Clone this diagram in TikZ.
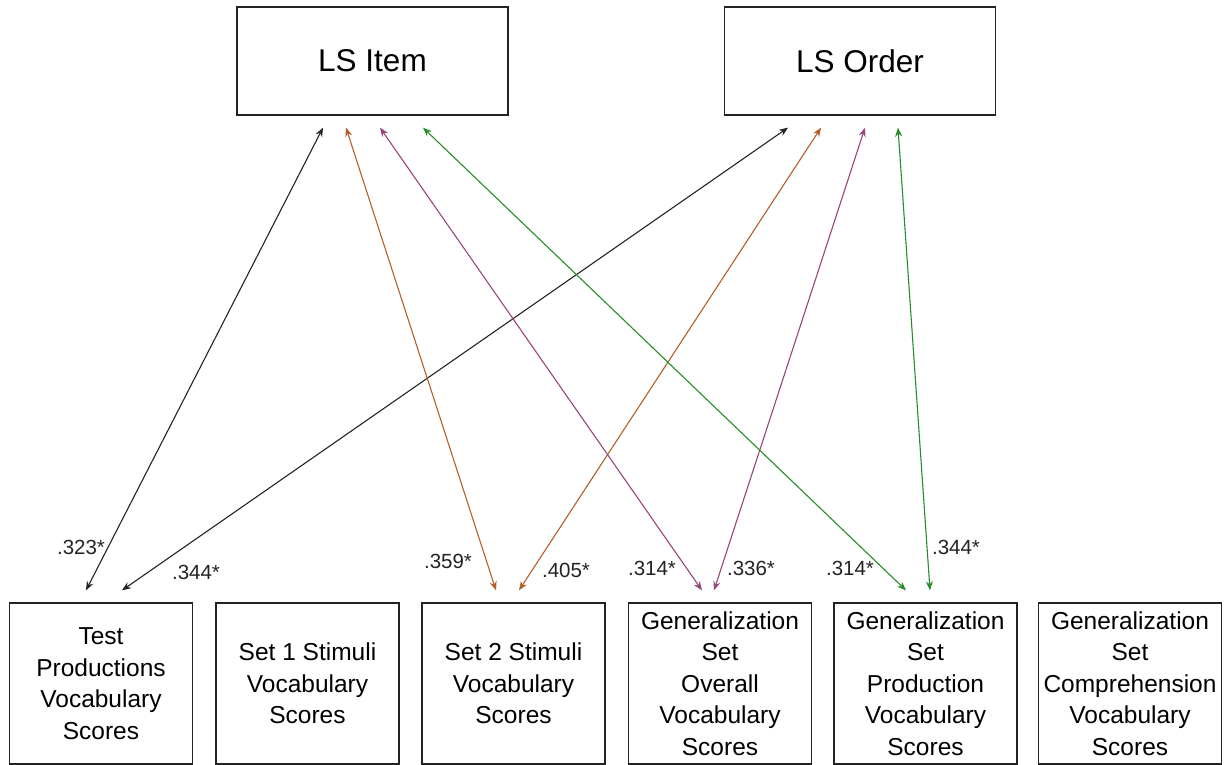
\documentclass[tikz,border=0pt]{standalone}
\usepackage{fontspec}
\setmainfont{Liberation Sans}
\usetikzlibrary{arrows.meta}
\definecolor{cblk}{RGB}{35,35,35}
\definecolor{corg}{RGB}{180,95,40}
\definecolor{cpur}{RGB}{150,70,120}
\definecolor{cgrn}{RGB}{40,140,40}
\tikzset{
  topbox/.style={draw=cblk, line width=1.3pt, inner sep=0pt, minimum width=271pt, minimum height=108pt, font=\fontsize{31.5}{36}\selectfont},
  botbox/.style={draw=cblk, line width=1.3pt, inner sep=0pt, minimum width=183pt, minimum height=161pt, align=center, font=\fontsize{24.5}{31.5}\selectfont},
  arr/.style={line width=1.1pt, {Stealth[length=9pt,width=7pt]}-{Stealth[length=9pt,width=7pt]}},
  lab/.style={font=\fontsize{20.5}{24}\selectfont, text=cblk, inner sep=0pt}
}
\begin{document}
\begin{tikzpicture}[x=1pt,y=-1pt]
\useasboundingbox (0,0) rectangle (1227,765);
\node[topbox] (item) at (372.5,61) {LS Item};
\node[topbox] (order) at (860,61) {LS Order};
\node[botbox] (b1) at (101,683.5) {Test\\Productions\\Vocabulary\\Scores};
\node[botbox] (b2) at (307.5,683.5) {Set 1 Stimuli\\Vocabulary\\Scores};
\node[botbox] (b3) at (513.5,683.5) {Set 2 Stimuli\\Vocabulary\\Scores};
\node[botbox] (b4) at (720,683.5) {Generalization\\Set\\Overall\\Vocabulary\\Scores};
\node[botbox] (b5) at (925.5,683.5) {Generalization\\Set\\Production\\Vocabulary\\Scores};
\node[botbox] (b6) at (1130,683.5) {Generalization\\Set\\Comprehension\\Vocabulary\\Scores};
% arrows
\draw[arr, cblk] ([xshift=-49.5pt,yshift=-12pt]item.south) -- ([xshift=-15pt,yshift=12pt]b1.north);
\draw[arr, cblk] ([xshift=-72pt,yshift=-12pt]order.south) -- ([xshift=21pt,yshift=12pt]b1.north);
\draw[arr, corg] ([xshift=-26.5pt,yshift=-12pt]item.south) -- ([xshift=-17.5pt,yshift=12pt]b3.north);
\draw[arr, corg] ([xshift=-39pt,yshift=-12pt]order.south) -- ([xshift=5.5pt,yshift=12pt]b3.north);
\draw[arr, cpur] ([xshift=7.5pt,yshift=-12pt]item.south) -- ([xshift=-18pt,yshift=12pt]b4.north);
\draw[arr, cpur] ([xshift=5pt,yshift=-12pt]order.south) -- ([xshift=-6pt,yshift=12pt]b4.north);
\draw[arr, cgrn] ([xshift=50.5pt,yshift=-12pt]item.south) -- ([xshift=-19.5pt,yshift=12pt]b5.north);
\draw[arr, cgrn] ([xshift=38pt,yshift=-12pt]order.south) -- ([xshift=4.5pt,yshift=12pt]b5.north);
% labels
\node[lab] (l1) at (81,547) {.323*};
\node[lab] (l2) at (196,572) {.344*};
\node[lab] (l3) at (448,561) {.359*};
\node[lab] (l4) at (566,570) {.405*};
\node[lab] (l5) at (652,568) {.314*};
\node[lab] (l6) at (751,568) {.336*};
\node[lab] (l7) at (850,568) {.314*};
\node[lab] (l8) at (956,547) {.344*};
\end{tikzpicture}
\end{document}
